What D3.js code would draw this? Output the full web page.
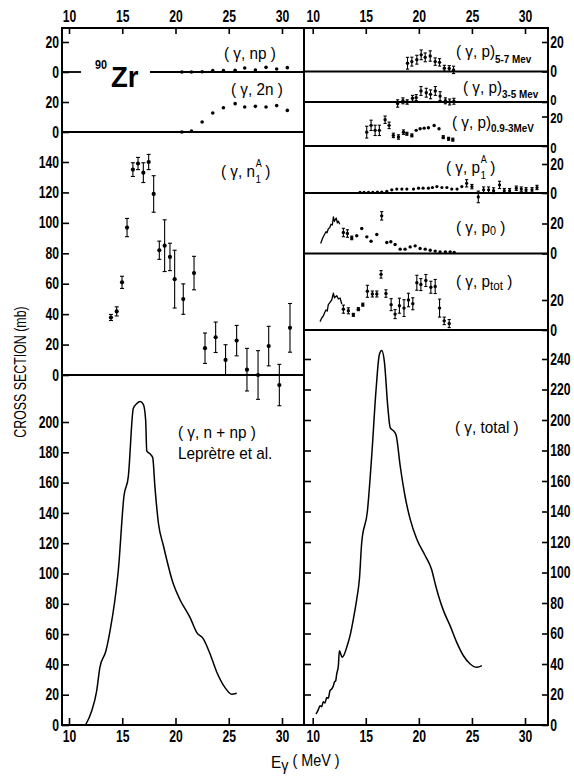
<!DOCTYPE html>
<html>
<head>
<meta charset="utf-8">
<script src="https://cdn.jsdelivr.net/npm/d3@7"></script>
<style>
  html, body { margin: 0; padding: 0; background: #fff; }
  svg { display: block; }
</style>
</head>
<body>
<svg id="chart" width="574" height="776"></svg>
<script>
// ---------------- data (photon energy in MeV, cross sections in mb) ----------------
const energyTicks = [10, 15, 20, 25, 30];

// (γ,np)
const npE   = [20.6, 21.5, 22.5, 23.5, 24.5, 25.6, 26.5, 27.5, 28.5, 29.5, 30.5];
const npVal = [0, 0, 0.2, 0.9, 0.9, 1.1, 2.7, 1.3, 3.1, 2.0, 2.9];
// (γ,2n)
const twoNE   = [20.6, 21.5, 22.5, 23.5, 24.5, 25.6, 26.5, 27.5, 28.5, 29.5, 30.5];
const twoNVal = [0, 0.7, 6.7, 12.7, 16.2, 18.9, 16.7, 17.1, 16.7, 17.6, 14.4];

// (γ,n1A)
const n1aE   = [13.94, 14.48, 14.98, 15.45, 16.0, 16.48, 16.98, 17.48, 17.95, 18.48, 18.98, 19.48,
                19.92, 20.73, 21.74, 22.77, 23.77, 24.7, 25.74, 26.71, 27.75, 28.75, 29.75, 30.75];
const n1aVal = [37.8, 41.8, 60.9, 96.9, 135, 139, 133, 140, 119, 82, 85, 77.6,
                63, 49.9, 67, 17.6, 24.8, 9.9, 22.6, 3.5, 0, 19, -6.6, 31];
const n1aErr = [2, 3, 4, 6, 4.5, 4, 6.5, 5, 12, 6, 17, 9,
                19, 10, 11, 10, 10, 10, 10, 14, 16, 13, 13.6, 16];

// (γ,n+np), Leprètre et al.
const nnpE   = [11.55, 12.13, 12.6, 12.9, 13.47, 13.85, 14.3, 14.63, 15.16, 15.57, 16.04, 16.35, 16.67,
                16.98, 17.2, 17.3, 17.6, 17.86, 18.07, 18.4, 18.86, 19.8, 20.4, 21.36, 22.0, 22.6,
                23.24, 23.87, 24.65, 25.28, 25.75];
const nnpVal = [0, 9.3, 22.5, 38, 49, 62, 82, 102, 151, 164, 209, 212, 213.5,
                211.7, 201, 181, 179, 176.6, 157, 133, 118.5, 93, 83, 71, 61, 57,
                47, 35, 24.7, 20.3, 21];

// (γ,p) 5-7 MeV
const p57E   = [18.93, 19.34, 19.81, 20.22, 20.6, 21.07, 21.54, 21.95, 22.4, 22.86, 23.27];
const p57Val = [5.6, 6.7, 8.0, 11.3, 9.6, 10.5, 6.7, 6.2, 2.2, 2.0, 1.1];
const p57Err = [4, 3, 3, 3.3, 3, 3.5, 2.5, 2.5, 2, 2, 2.5];

// (γ,p) 3-5 MeV
const p35E   = [18.0, 18.5, 18.9, 19.4, 19.75, 20.2, 20.7, 21.1, 21.55, 22.0, 22.5, 22.9, 23.3];
const p35Val = [-1, 0.8, 0, 2.5, 3, 7.5, 6.3, 5.2, 7.5, 4, 0.8, 0, 0.5];
const p35Err = [2.5, 2, 1.5, 2, 2, 3, 3, 3, 3, 3, 2, 2, 2];

// (γ,p) 0.9-3 MeV
const p093E   = [15.09, 15.5, 15.88, 16.28, 16.82, 17.2, 17.6, 18.08, 18.55, 18.87, 19.34, 19.75,
                 20.12, 20.5, 20.9, 21.44, 21.9, 22.3, 22.8, 23.2];
const p093Val = [9.4, 14, 10.6, 10.6, 17.8, 14, 7.2, 6.1, 9.4, 8.3, 7.2, 10.6,
                 11.7, 12.1, 12.4, 13.9, 11.7, 6, 4.9, 4.3];
const p093Err = [4, 3.5, 3.5, 3.5, 2.5, 2.2, 1.5, 1.5, 1.5, 1, 1, 0,
                 0, 0, 0, 0, 0, 1, 1, 1];

// (γ,p1A)
const p1aE   = [14.46, 14.84, 15.25, 15.66, 16.1, 16.5, 16.98, 17.45, 17.92, 18.4, 18.87, 19.5,
                19.97, 20.4, 20.9, 21.28, 21.7, 22.17, 22.64, 23.1, 23.6, 24.05, 24.5, 25.0,
                25.6, 26.1, 26.57, 27.04, 27.6, 28.05, 28.55, 29.18, 29.65, 30.1, 30.66, 31.13];
const p1aVal = [0.4, 0.4, 0.4, 0.4, 0.7, 0.7, 1.1, 2.2, 2.7, 2.7, 2.7, 2.7,
                3.3, 3.3, 3.3, 3.8, 4.4, 3.8, 3.8, 2.7, 2.7, 4.4, 6.7, 4.4,
                -2.7, 2.2, 2.2, 1.6, 5.6, 1.6, 1.6, 3.3, 2.7, 2.2, 2.2, 3.8];
const p1aErr = [0, 0, 0, 0, 0, 0, 0, 0, 0, 0, 0, 0,
                0, 0, 0, 0, 0, 0, 0, 0, 0, 0, 2.5, 1.5,
                4, 2, 2, 2, 2.5, 1.5, 1.5, 1.5, 1.5, 1.5, 1.5, 1.5];

// (γ,p0): high-resolution trace, then binned points
const p0LineE   = [10.75, 10.95, 11.1, 11.25, 11.35, 11.47, 11.6, 11.72, 11.85, 11.95, 12.05, 12.15, 12.22, 12.32, 12.42, 12.55];
const p0LineVal = [6.7, 10.5, 12.5, 14.5, 13.8, 16.5, 17.2, 19.5, 19, 24.4, 21.5, 22.8, 23.6, 20.5, 21.5, 19.5];
const p0E   = [12.89, 13.27, 13.68, 14.15, 14.62, 15.1, 15.5, 16.04, 16.5, 16.98, 17.36, 17.76,
               18.24, 18.7, 19.18, 19.65, 20.12, 20.6, 21.07, 21.54, 22.0, 22.5, 22.95, 23.33];
const p0Val = [14, 13.3, 10.4, 11.8, 16.7, 11.1, 8.2, 12.7, 25.1, 7.3, 7.8, 6,
               2.9, 2.9, 4.4, 5.1, 3.3, 2.9, 2.2, 1.6, 1.1, 1.1, 1.1, 0.7];
const p0Err = [2.8, 2.5, 1.2, 0, 0, 0, 0, 0, 2.8, 0, 0, 0,
               0, 0, 0, 0, 0, 0, 0, 0, 0, 0, 0, 0];

// (γ,ptot): high-resolution trace, then binned points
const ptotLineE   = [10.69, 10.85, 11.0, 11.12, 11.25, 11.37, 11.47, 11.63, 11.79, 11.95, 12.05, 12.15, 12.26, 12.42, 12.58, 12.74];
const ptotLineVal = [5.6, 8.0, 9.4, 11.5, 13.3, 12.6, 16.9, 18.4, 20, 24.5, 21.5, 22.2, 22.9, 20.7, 21.3, 17.3];
const ptotE   = [12.89, 13.36, 13.83, 14.3, 14.72, 15.15, 15.62, 16.04, 16.44, 16.9, 17.39, 17.76,
                 18.17, 18.6, 19.02, 19.43, 19.81, 20.19, 20.66, 21.13, 21.54, 21.95, 22.39, 22.86];
const ptotVal = [13.9, 12.8, 10.1, 13.9, 16.9, 25.8, 24.0, 24.0, 37.1, 24.3, 16.9, 10.6,
                 16.2, 14.6, 20, 17.5, 31.5, 30.3, 33, 28.5, 29, 14.6, 6.1, 4.3];
const ptotErr = [2.7, 2, 1, 1, 1, 4, 2, 2, 2.5, 2.5, 4, 3,
                 5, 5.6, 4.5, 4, 5, 4, 4, 4, 4.7, 6, 2.5, 2.7];

// (γ,total)
const totE   = [10.31, 10.53, 10.69, 10.85, 11.0, 11.16, 11.32, 11.47, 11.63, 11.79, 11.95, 12.04,
                12.17, 12.26, 12.42, 12.51, 12.64, 12.79, 12.95, 13.2, 13.52, 13.83, 14.15, 14.4,
                14.62, 15.15, 15.56, 15.97, 16.28, 16.5, 16.76, 17.07, 17.3, 17.6, 17.86, 18.24,
                18.7, 19.18, 19.8, 20.6, 21.2, 21.6, 21.85, 22.32, 22.95, 23.58, 24.2, 24.84, 25.47, 25.94];
const totVal = [7.2, 10.1, 12.7, 12.0, 15.3, 14.4, 18.1, 17.5, 22.5, 23.6, 25.8, 28,
                29.1, 33.4, 38.9, 48.7, 46.6, 44.4, 45.9, 50.9, 58.6, 69.5, 82.6, 95.7,
                119.8, 140, 176.6, 220, 243, 245.5, 237.8, 209, 195, 193, 190, 170,
                150, 135, 122, 111, 102, 91, 84.8, 75, 65, 54, 45.4, 40, 37.8, 38.9];

// ---------------- layout ----------------
const svg = d3.select("#chart");
const FONT = "'Liberation Sans', Arial, Helvetica, sans-serif";
const frame = { left: 62, mid: 304, right: 548, top: 28, bottom: 725 };
const TICK_SX = 0.76;

const xL = d3.scaleLinear().domain([10, 30]).range([69, 282]);
const xR = d3.scaleLinear().domain([10, 30]).range([312.7, 525]);

// left column
const yNp   = d3.scaleLinear().domain([0, 20]).range([72, 42]);
const y2n   = d3.scaleLinear().domain([0, 20]).range([132, 102]);
const yN1a  = d3.scaleLinear().domain([0, 140]).range([375, 162]);
const yNnp  = d3.scaleLinear().domain([0, 200]).range([725, 422]);
// right column
const yP57  = d3.scaleLinear().domain([0, 20]).range([71.5, 42]);
const yP35  = d3.scaleLinear().domain([0, 20]).range([102, 72.5]);
const yP093 = d3.scaleLinear().domain([0, 20]).range([146, 116.5]);
const yP1a  = d3.scaleLinear().domain([0, 20]).range([193, 164]);
const yP0   = d3.scaleLinear().domain([0, 20]).range([253.5, 223.5]);
const yPtot = d3.scaleLinear().domain([0, 20]).range([330, 300]);
const yTot  = d3.scaleLinear().domain([0, 240]).range([725, 359]);

// ---------------- frame and panel separators ----------------
const ink = svg.append("g").attr("stroke", "#000").attr("fill", "none");
ink.append("rect")
  .attr("x", frame.left).attr("y", frame.top)
  .attr("width", frame.right - frame.left).attr("height", frame.bottom - frame.top)
  .attr("stroke-width", 2);
ink.append("line").attr("x1", frame.mid).attr("x2", frame.mid)
  .attr("y1", frame.top).attr("y2", frame.bottom).attr("stroke-width", 2);

function hline(x1, x2, y) {
  ink.append("line").attr("x1", x1).attr("x2", x2).attr("y1", y).attr("y2", y).attr("stroke-width", 1.8);
}
// left column zero lines (the np line leaves room for the nucleus label)
hline(frame.left, 81, yNp(0));
hline(150, frame.mid, yNp(0));
hline(frame.left, frame.mid, y2n(0));
hline(frame.left, frame.mid, yN1a(0));
// right column zero lines
[yP57, yP35, yP093, yP1a, yP0, yPtot].forEach(s => hline(frame.mid, frame.right, s(0)));

// ---------------- axes ----------------
function styleAxis(g, size = 16) {
  g.select(".domain").remove();
  g.selectAll(".tick line").attr("stroke", "#000").attr("stroke-width", 1.6);
  g.selectAll(".tick text")
    .attr("font-family", FONT).attr("font-size", size).attr("font-weight", "bold").attr("fill", "#000")
    .attr("transform", `scale(${TICK_SX},1)`);
}

// energy axes, top and bottom of both columns
[xL, xR].forEach(x => {
  svg.append("g").attr("transform", `translate(0,${frame.top})`)
    .call(d3.axisTop(x).tickValues(energyTicks).tickSize(-6).tickPadding(6).tickSizeOuter(0))
    .call(styleAxis);
  svg.append("g").attr("transform", `translate(0,${frame.bottom})`)
    .call(d3.axisBottom(x).tickValues(energyTicks).tickSize(-7).tickPadding(6).tickSizeOuter(0))
    .call(styleAxis);
});

// left cross-section axes (ticks inward, labels outside)
function leftAxis(y, values) {
  svg.append("g").attr("transform", `translate(${frame.left},0)`)
    .call(d3.axisLeft(y).tickValues(values).tickSize(-7).tickPadding(4).tickSizeOuter(0).tickFormat(d3.format("d")))
    .call(styleAxis);
}
leftAxis(yNp, [0, 20]);
leftAxis(y2n, [0, 20]);
leftAxis(yN1a, d3.range(0, 141, 20));
leftAxis(yNnp, d3.range(0, 201, 20));

// right cross-section axes
function rightAxis(y, values, shift = 0, size = 16) {
  const g = svg.append("g").attr("transform", `translate(${frame.right},0)`)
    .call(d3.axisRight(y).tickValues(values).tickSize(-6).tickPadding(3).tickSizeOuter(0).tickFormat(d3.format("d")))
    .call(styleAxis, size);
  if (shift) g.selectAll(".tick text").attr("y", shift);
}
rightAxis(yP57, [0, 20]);
rightAxis(yP35, [0], -2, 15);
rightAxis(yP093, [0, 20], 1.5, 15);
rightAxis(yP1a, [0, 20]);
rightAxis(yP0, [0, 20]);
rightAxis(yPtot, [0, 20]);
rightAxis(yTot, d3.range(0, 241, 20));
// inner ticks of the total panel on the divider
svg.append("g").attr("transform", `translate(${frame.mid},0)`)
  .call(d3.axisRight(yTot).tickValues(d3.range(20, 241, 20)).tickSize(7).tickFormat("").tickSizeOuter(0))
  .call(styleAxis);

// ---------------- marks ----------------
function points(x, y, E, V, r = 2) {
  svg.append("g").selectAll("circle")
    .data(d3.range(E.length)).join("circle")
    .attr("cx", i => x(E[i])).attr("cy", i => y(V[i])).attr("r", r).attr("fill", "#000");
}
function errorBars(x, y, E, V, Err, cap = 1.6) {
  const idx = d3.range(E.length).filter(i => Err[i] > 0);
  const g = svg.append("g").attr("stroke", "#000").attr("stroke-width", 1.1);
  g.selectAll("line.bar").data(idx).join("line").attr("class", "bar")
    .attr("x1", i => x(E[i])).attr("x2", i => x(E[i]))
    .attr("y1", i => y(V[i] - Err[i])).attr("y2", i => y(V[i] + Err[i]));
  ["lo", "hi"].forEach(end => {
    g.selectAll("line." + end).data(idx).join("line").attr("class", end)
      .attr("x1", i => x(E[i]) - cap).attr("x2", i => x(E[i]) + cap)
      .attr("y1", i => y(end === "lo" ? V[i] - Err[i] : V[i] + Err[i]))
      .attr("y2", i => y(end === "lo" ? V[i] - Err[i] : V[i] + Err[i]));
  });
}
function curve(x, y, E, V, kind = d3.curveMonotoneX, w = 1.5) {
  const line = d3.line().x(i => x(E[i])).y(i => y(V[i])).curve(kind);
  svg.append("path").attr("d", line(d3.range(E.length)))
    .attr("fill", "none").attr("stroke", "#000").attr("stroke-width", w).attr("stroke-linejoin", "round");
}

// left column
points(xL, yNp, npE, npVal, 1.8);
points(xL, y2n, twoNE, twoNVal, 1.8);
errorBars(xL, yN1a, n1aE, n1aVal, n1aErr, 2);
points(xL, yN1a, n1aE, n1aVal, 2.1);
curve(xL, yNnp, nnpE, nnpVal);

// right column
errorBars(xR, yP57, p57E, p57Val, p57Err);
points(xR, yP57, p57E, p57Val, 1.7);
errorBars(xR, yP35, p35E, p35Val, p35Err);
points(xR, yP35, p35E, p35Val, 1.7);
errorBars(xR, yP093, p093E, p093Val, p093Err);
points(xR, yP093, p093E, p093Val, 1.7);
errorBars(xR, yP1a, p1aE, p1aVal, p1aErr);
points(xR, yP1a, p1aE, p1aVal, 1.6);
curve(xR, yP0, p0LineE, p0LineVal, d3.curveLinear, 1.3);
errorBars(xR, yP0, p0E, p0Val, p0Err);
points(xR, yP0, p0E, p0Val, 1.7);
curve(xR, yPtot, ptotLineE, ptotLineVal, d3.curveLinear, 1.3);
errorBars(xR, yPtot, ptotE, ptotVal, ptotErr);
points(xR, yPtot, ptotE, ptotVal, 1.7);
curve(xR, yTot, totE, totVal);

// ---------------- text ----------------
function label(x, y, opts = {}) {
  const { size = 17, sx = 0.9, weight = "normal", anchor = "start", rotate = 0 } = opts;
  return svg.append("text")
    .attr("transform", `translate(${x},${y})${rotate ? ` rotate(${rotate})` : ""} scale(${sx},1)`)
    .attr("font-family", FONT).attr("font-size", size).attr("font-weight", weight)
    .attr("text-anchor", anchor).attr("fill", "#000");
}
function sub(t, s, size, dy, dx = 0, weight = "normal") {
  t.append("tspan").attr("font-size", size).attr("dy", dy).attr("dx", dx).attr("font-weight", weight).text(s);
}

// nucleus
label(95, 69, { size: 12, weight: "bold", sx: 0.9 }).text("90");
label(111, 87, { size: 29, weight: "bold", sx: 0.95 }).text("Zr");

// left column reactions
label(224, 59).text("( γ, np )");
label(231, 95).text("( γ, 2n )");
{
  const t = label(221, 177).text("( γ, n");
  sub(t, "A", 10, -10, 1);
  sub(t, "1", 11, 16, -7);
  sub(t, " )", 17, -6, 0);
}
label(178, 438).text("( γ, n + np  )");
label(178, 459).text("Leprètre  et al.");

// right column reactions
{
  const t = label(456, 57).text("( γ, p)");
  sub(t, "5-7 Mev", 11, 6, 0, "bold");
}
{
  const t = label(463, 93).text("( γ, p)");
  sub(t, "3-5 Mev", 11, 5, 0, "bold");
}
{
  const t = label(452, 128).text("( γ, p)");
  sub(t, "0.9-3MeV", 11, 4, 0, "bold");
}
{
  const t = label(446, 173).text("( γ, p");
  sub(t, "A", 10, -10, 1);
  sub(t, "1", 11, 16, -7);
  sub(t, " )", 17, -6, 0);
}
{
  const t = label(456, 233).text("( γ, p");
  sub(t, "0", 12, 2);
  sub(t, " )", 17, -2);
}
{
  const t = label(456, 287).text("( γ, p");
  sub(t, "tot", 13, 3);
  sub(t, " )", 17, -3);
}
label(455, 433).text("( γ, total )");

// axis titles
{
  const t = label(271, 768, { size: 17, sx: 0.9 }).text("E");
  sub(t, "γ", 16, 3);
  sub(t, " ( MeV )", 16, -5);
}
label(26, 372, { size: 16.5, sx: 0.75, anchor: "middle", rotate: -90 }).text("CROSS SECTION (mb)");
</script>
</body>
</html>
